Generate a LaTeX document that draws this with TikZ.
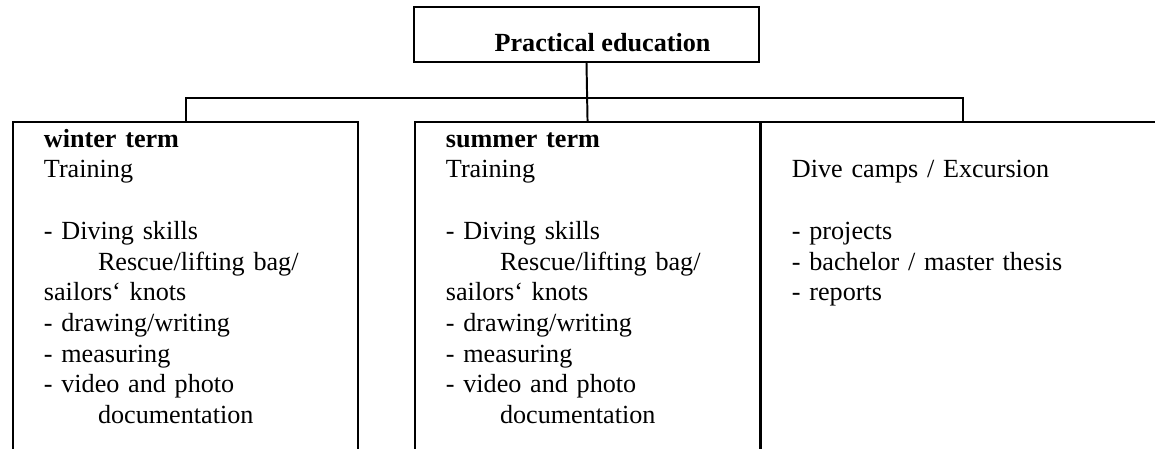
\documentclass[tikz,border=0pt]{standalone}
\usepackage{fontspec}
\setmainfont{Liberation Serif}
\usetikzlibrary{positioning}
\tikzset{
	topbox/.style={draw, line width=0.9pt, minimum width=158.3pt, minimum height=25.2pt, inner sep=0pt,
		text height=16pt, text depth=0pt, font=\fontsize{12}{14.1}\selectfont\bfseries},
	termbox/.style={draw, line width=0.9pt, anchor=north west, align=left, text width=#1,
		inner xsep=14.2pt, inner ysep=0pt, text height=11.5pt, text depth=150pt, font=\fontsize{12}{14.1}\selectfont},
	termbox/.default=129.9pt,
	link/.style={line width=0.9pt},
}
\newcommand{\sub}{\hspace*{24.8pt}}

\begin{document}
\begin{tikzpicture}[x=0.4587pt, y=-0.4587pt]
	\useasboundingbox (0,0) rectangle (1155,448);
	\node[topbox] (practical) at (586.5,34.5) {\hspace*{14.7pt}Practical education};
	\node[termbox] (winter) at (12,121) {\textbf{winter term}\\Training\\[14.1pt]- Diving skills\\\sub Rescue/lifting bag/\\sailors‘ knots\\- drawing/writing\\- measuring\\- video and photo\\\sub documentation};
	\node[termbox] (summer) at (414,121) {\textbf{summer term}\\Training\\[14.1pt]- Diving skills\\\sub Rescue/lifting bag/\\sailors‘ knots\\- drawing/writing\\- measuring\\- video and photo\\\sub documentation};
	\node[termbox=156.9pt] (dive) at (760,121) {\mbox{}\\Dive camps / Excursion\\[14.1pt]- projects\\- bachelor / master thesis\\- reports};
	\coordinate (bar) at (0,98);
	\draw[link] (winter.north) -- (winter.north |- bar) -- (dive.north |- bar) -- (dive.north);
	\draw[link] (practical.south) -- (summer.north);
\end{tikzpicture}
\end{document}
